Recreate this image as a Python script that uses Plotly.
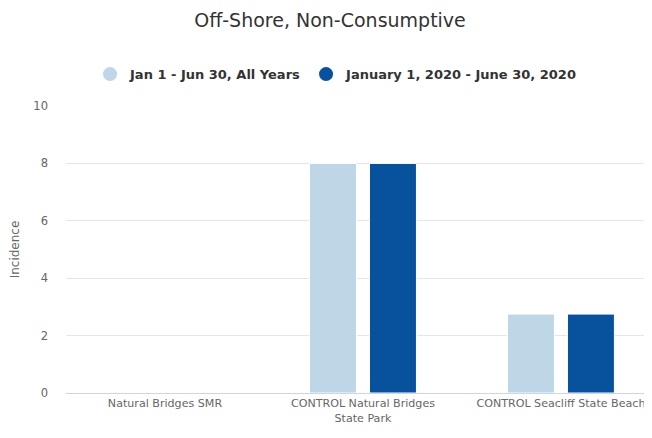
import plotly.graph_objects as go

categories = ["Natural Bridges SMR", "CONTROL Natural Bridges<br>State Park", "CONTROL Seacliff State Beach"]
series_names = ["Jan 1 - Jun 30, All Years", "January 1, 2020 - June 30, 2020"]
all_years = [0, 8, 2.75]
year_2020 = [0, 8, 2.75]
colors = ["#bed6e6", "#08519c"]

fig = go.Figure()
for name, vals, c in zip(series_names, [all_years, year_2020], colors):
    fig.add_trace(go.Bar(x=categories, y=vals, name=name, marker=dict(color=c, line=dict(color="white", width=1)),
                         showlegend=False))
for name, c in zip(series_names, colors):
    fig.add_trace(go.Scatter(x=[None], y=[None], mode="markers", name=name,
                             marker=dict(symbol="circle", size=14, color=c)))

# page body has an 8px margin; figure is sized/offset to compensate
fig.update_layout(
    width=644, height=430,
    margin=dict(l=58, r=0, t=98, b=45, autoexpand=False),
    paper_bgcolor="white", plot_bgcolor="white",
    font=dict(family="DejaVu Sans", color="#666666"),
    title=dict(text="Off-Shore, Non-Consumptive", x=0.5, xanchor="center", y=0.972, yanchor="middle",
               font=dict(size=19, color="#333333")),
    legend=dict(orientation="h", x=0.041, xanchor="left", y=1.111, yanchor="middle",
                font=dict(size=13, color="#333333", family="DejaVu Sans", weight="bold"), itemwidth=30,
                traceorder="normal"),
    barmode="group", bargap=0.394, bargroupgap=0.217,
    xaxis=dict(range=[-0.5, 2.46], showgrid=False, showline=True, linecolor="#ccd6eb", linewidth=1,
               ticks="", tickfont=dict(size=11.1, color="#666666"), fixedrange=True, automargin=False),
    yaxis=dict(range=[0, 10], dtick=2, showgrid=True, gridcolor="#e6e6e6", gridwidth=1,
               zeroline=False, tickfont=dict(size=11.5, color="#666666"), ticklabelstandoff=17,
               automargin=False,
               title=dict(text="Incidence", font=dict(size=12, color="#666666"), standoff=14)),
)
fig.write_html("out.html")
